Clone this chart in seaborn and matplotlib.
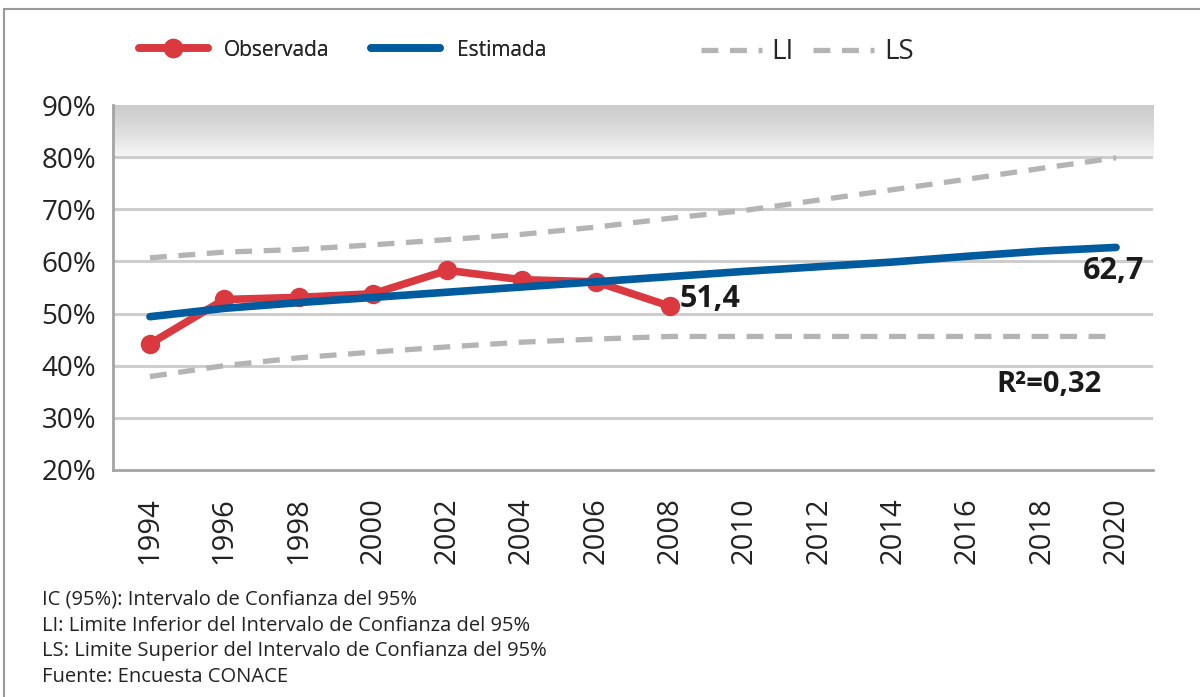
"""
Prevalencia observada vs estimada con intervalo de confianza 95%.
"""

import numpy as np
import pandas as pd
import matplotlib.pyplot as plt
import matplotlib.patches as mpatches
from matplotlib.lines import Line2D
from matplotlib.colors import LinearSegmentedColormap
import seaborn as sns

years = [1994, 1996, 1998, 2000, 2002, 2004, 2006, 2008,
         2010, 2012, 2014, 2016, 2018, 2020]
observada = [44.2, 52.7, 53.1, 53.8, 58.3, 56.5, 56.1, 51.4]
estimada = [49.4, 51.0, 52.1, 53.1, 54.1, 55.1, 56.1, 57.1,
            58.1, 59.0, 59.9, 61.0, 62.0, 62.7]
ls_upper = [60.7, 61.8, 62.3, 63.2, 64.2, 65.2, 66.6, 68.3,
            69.8, 71.8, 73.8, 75.8, 77.9, 79.9]
li_lower = [37.9, 40.0, 41.5, 42.6, 43.6, 44.5, 45.1, 45.6,
            45.6, 45.6, 45.6, 45.6, 45.6, 45.6]
yticks = [20, 30, 40, 50, 60, 70, 80, 90]
notes = ["IC (95%): Intervalo de Confianza del 95%",
         "LI: Limite Inferior del Intervalo de Confianza del 95%",
         "LS: Limite Superior del Intervalo de Confianza del 95%",
         "Fuente: Encuesta CONACE"]

RED = "#d9393f"
BLUE = "#005c9e"
GRAY = "#b4b4b4"

sns.set_theme(style="white")
plt.rcParams["font.family"] = ["Open Sans", "DejaVu Sans"]

df_obs = pd.DataFrame({"year": years[:len(observada)], "val": observada})
df_all = pd.DataFrame({"year": years, "est": estimada, "ls": ls_upper, "li": li_lower})

fig = plt.figure(figsize=(12, 6.97), dpi=100)
ax = fig.add_axes([0.094, 0.326, 0.867, 0.523])

# gradient band on top
grad = np.linspace(0, 1, 100).reshape(-1, 1)
cmap = LinearSegmentedColormap.from_list("band", ["#f7f7f7", "#dcdddc", "#c9cac9"])
ax.imshow(grad, extent=(1993, 2021, 80, 90), aspect="auto", cmap=cmap,
          origin="lower", zorder=0)

for y in yticks[1:-1]:
    ax.axhline(y, color="#cdcdcd", lw=2.2, zorder=1)

dash = (3.2, 2.2)
sns.lineplot(data=df_all, x="year", y="ls", ax=ax, color=GRAY, lw=3.8, zorder=2)
ax.lines[-1].set_dashes(dash)
sns.lineplot(data=df_all, x="year", y="li", ax=ax, color=GRAY, lw=3.8, zorder=2)
ax.lines[-1].set_dashes(dash)
sns.lineplot(data=df_all, x="year", y="est", ax=ax, color=BLUE, lw=5.5,
             zorder=4, solid_capstyle="round")
sns.lineplot(data=df_obs, x="year", y="val", ax=ax, color=RED, lw=5.5,
             marker="o", markersize=14, markeredgewidth=0, zorder=3)

ax.set_xlim(1993, 2021)
ax.set_ylim(20, 90)
ax.set_xticks(years)
ax.set_xticklabels([str(y) for y in years], rotation=90, fontsize=21,
                   color="#222222")
ax.set_yticks(yticks)
ax.set_yticklabels([f"{y}%" for y in yticks], fontsize=20, color="#222222")
ax.tick_params(axis="y", length=0, pad=12)
ax.tick_params(axis="x", length=0, pad=20)
ax.set_xlabel("")
ax.set_ylabel("")
for s in ["top", "right"]:
    ax.spines[s].set_visible(False)
for s in ["left", "bottom"]:
    ax.spines[s].set_color("#a4a4a4")
    ax.spines[s].set_linewidth(2)

# annotations
ax.annotate("51,4", (2008, observada[-1]), xytext=(7, 5),
            textcoords="offset points", fontsize=22, fontweight="bold",
            va="center", ha="left", color="#1a1a1a")
ax.annotate("62,7", (2020, estimada[-1]), xytext=(20, -17),
            textcoords="offset points", fontsize=22, fontweight="bold",
            va="center", ha="right", color="#1a1a1a")
ax.text(2019.6, 36.4, "R²=0,32", fontsize=21, fontweight="bold",
        ha="right", va="center", color="#1a1a1a")

# legends
h1 = [Line2D([], [], color=RED, lw=5.5, marker="o", markersize=14,
             markeredgewidth=0, solid_capstyle="round"),
      Line2D([], [], color=BLUE, lw=5.5, solid_capstyle="round")]
leg1 = fig.legend(h1, ["Observada", "Estimada"], loc="center left",
                  bbox_to_anchor=(0.1, 0.928), ncol=2, frameon=False,
                  fontsize=15, handlelength=3.3, columnspacing=2.0,
                  handletextpad=0.8)
h2 = [Line2D([], [], color=GRAY, lw=3.8, dashes=dash),
      Line2D([], [], color=GRAY, lw=3.8, dashes=dash)]
fig.legend(h2, ["LI", "LS"], loc="center left",
           bbox_to_anchor=(0.563, 0.925), ncol=2, frameon=False,
           fontsize=20, handlelength=2.2, columnspacing=0.7,
           handletextpad=0.35)
fig.add_artist(leg1)

# footnotes
for i, line in enumerate(notes):
    fig.text(0.035, 1 - (600 + 25.7 * i) / 697, line, fontsize=14.5,
             va="center", ha="left", color="#222222")

# outer frame
fig.add_artist(mpatches.Rectangle((4 / 1200, -0.2), 1.2, 1.2 - 9 / 697,
                                  transform=fig.transFigure, fill=False,
                                  edgecolor="#9a9a9a", lw=1.5))

fig.savefig("out.png", dpi=100)
